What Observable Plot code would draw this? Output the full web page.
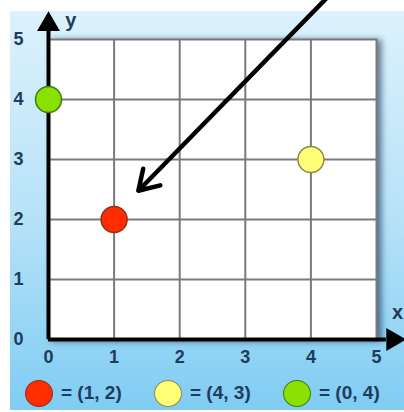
<!DOCTYPE html>
<html><head><meta charset="utf-8">
<script src="https://cdn.jsdelivr.net/npm/d3@7"></script>
<script src="https://cdn.jsdelivr.net/npm/@observablehq/plot@0.6"></script>
<style>
html,body{margin:0;padding:0;background:#fff;}
#page{position:relative;width:404px;height:412px;overflow:hidden;background:#fff;}
#bg{position:absolute;left:10px;top:11px;right:0;bottom:2px;background:linear-gradient(to bottom,#dcf2fc 0%,#b8e3f8 50%,#80ccf3 100%);}
#chart{position:absolute;left:0;top:0;}
#legend{position:absolute;left:25px;top:379px;height:28px;display:flex;font:bold 19px "Liberation Sans",Arial,sans-serif;color:#1e3d5c;}
.item{width:129px;display:flex;align-items:center;height:28px;}
.sw{width:28px;height:27px;border-radius:50%;box-sizing:border-box;border:1.5px solid;margin-right:8px;flex:none;}
</style></head>
<body><div id="page"><div id="bg"></div><div id="chart"></div><div id="legend"></div></div>
<script>
// data
const xTicks = [0, 1, 2, 3, 4, 5];
const yTicks = [0, 1, 2, 3, 4, 5];
const gridTicks = [1, 2, 3, 4];
const pointX = [1, 4, 0];
const pointY = [2, 3, 4];
const pointLabel = ["= (1, 2)", "= (4, 3)", "= (0, 4)"];
const axisEnd = 5.15;
const axisHead = 5.25;
const pointerFrom = [4.32, 5.78];
const pointerTo = [1.37, 2.48];
const axisNameX = [5.32, 0.45];
const axisNameY = [0.34, 5.32];

// styles
const pointFill = ["#ff2d00", "#ffff78", "#8ae000"];
const pointStroke = ["#93301a", "#8c8a45", "#3f7d12"];
const ink = "#1e3d5c";
const font = "Liberation Sans, Arial, sans-serif";

const points = pointX.map((x, i) => ({x, y: pointY[i], label: pointLabel[i], fill: pointFill[i], stroke: pointStroke[i]}));

const chart = Plot.plot({
  width: 404, height: 360,
  marginLeft: 48, marginRight: 28, marginTop: 39, marginBottom: 21,
  x: {domain: [0, 5], label: null},
  y: {domain: [0, 5], label: null},
  style: {background: "transparent", overflow: "visible", fontFamily: font},
  marks: [
    Plot.frame({fill: "white", stroke: "#7a7a7a", strokeWidth: 2}),
    Plot.gridX(gridTicks, {stroke: "#7a7a7a", strokeOpacity: 1, strokeWidth: 2}),
    Plot.gridY(gridTicks, {stroke: "#7a7a7a", strokeOpacity: 1, strokeWidth: 2}),
    Plot.axisX(xTicks, {tickSize: 0, tickPadding: 11, tickFormat: "d", fontSize: 18, fontWeight: "bold", fill: ink, label: null}),
    Plot.axisY(yTicks, {tickSize: 0, tickPadding: 25, tickFormat: "d", fontSize: 18, fontWeight: "bold", fill: ink, label: null}),
    Plot.ruleY([0], {x1: 0, x2: axisEnd, stroke: "black", strokeWidth: 4}),
    Plot.ruleX([0], {y1: 0, y2: axisEnd, stroke: "black", strokeWidth: 4}),
    Plot.dot([0], {x: axisHead, y: 0, symbol: "triangle", r: 8.5, fill: "black", rotate: 90}),
    Plot.dot([0], {x: 0, y: axisHead, symbol: "triangle", r: 8.5, fill: "black"}),
    Plot.text(["y"], {x: axisNameY[0], y: axisNameY[1], text: d => d, fontSize: 20, fontWeight: "bold", fill: ink}),
    Plot.text(["x"], {x: axisNameX[0], y: axisNameX[1], text: d => d, fontSize: 20, fontWeight: "bold", fill: ink}),
    Plot.arrow([0], {x1: pointerFrom[0], y1: pointerFrom[1], x2: pointerTo[0], y2: pointerTo[1], stroke: "black", strokeWidth: 4.5, headLength: 7.5, headAngle: 64}),
    Plot.dot(points, {x: "x", y: "y", r: 13, fill: "fill", stroke: "stroke", strokeWidth: 1.5})
  ]
});
d3.select(chart).selectAll('[aria-label="frame"]').style("filter", "drop-shadow(4px 1px 3px rgba(0,20,60,0.55))");
document.getElementById("chart").appendChild(chart);

const legend = d3.select("#legend");
points.forEach(p => {
  const it = legend.append("div").attr("class", "item");
  it.append("div").attr("class", "sw").style("background", p.fill).style("border-color", p.stroke);
  it.append("span").text(p.label);
});
</script></body></html>
